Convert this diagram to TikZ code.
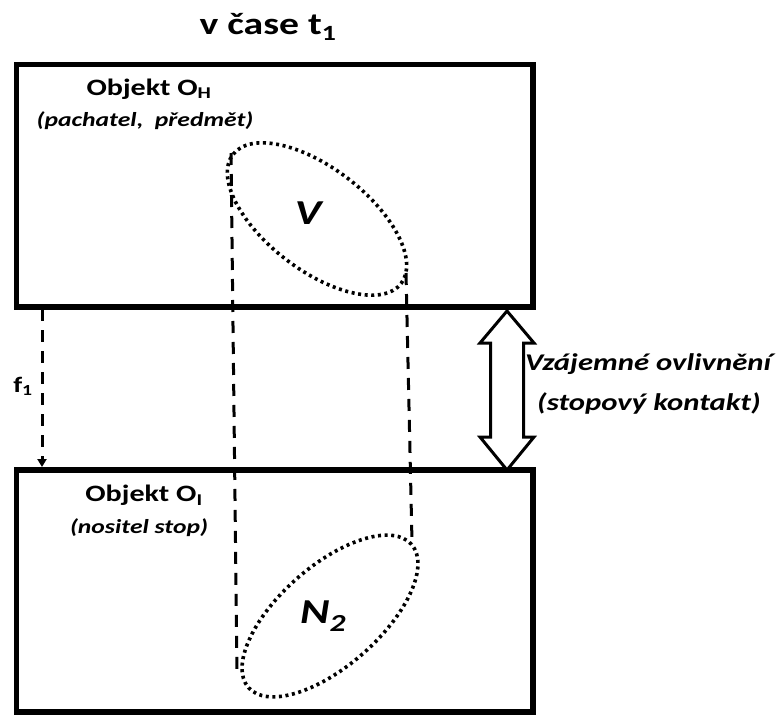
\documentclass[tikz,border=0pt]{standalone}
\usepackage{fontspec}
\setmainfont{Carlito}[FakeStretch=1.28]
\usetikzlibrary{arrows.meta,shapes.geometric}

\begin{document}
\begin{tikzpicture}[x=1pt,y=-1pt,
  objbox/.style={draw, line width=5.5pt, rectangle, inner sep=0pt, outer sep=0pt,
                 anchor=north west, minimum width=516.5pt},
  zone/.style={draw, ellipse, line width=3.6pt, inner sep=0pt, outer sep=0pt,
               dash pattern=on 3pt off 3.6pt, minimum width=212pt, minimum height=102pt},
  link/.style={line width=3pt, dash pattern=on 12pt off 9pt},
  contact/.style={draw, line width=3pt, fill=white, line join=miter},
  title/.style={font=\fontsize{31}{31}\selectfont\bfseries},
  objname/.style={font=\fontsize{23.5}{23.5}\selectfont\bfseries},
  objnote/.style={font=\fontsize{20}{20}\selectfont\bfseries\itshape},
  sidenote/.style={font=\fontsize{24}{24}\selectfont\bfseries\itshape, anchor=west, inner sep=0pt},
  setname/.style={font=\fontsize{35}{35}\selectfont\bfseries\itshape}
]
\useasboundingbox (0,0) rectangle (781,718);

% the two objects
\node[objbox, minimum height=242.5pt] (top) at (16.5,64.5) {};
\node[objbox, minimum height=242pt] (bot) at (16.5,470) {};

% captions
\node[title] (when) at (268,27) {v čase t\textsubscript{1}};
\node[objname] (oh) at (149,89) {Objekt O\textsubscript{H}};
\node[objnote] (ohn) at (145,121) {(pachatel,~ předmět)};
\node[objname] (oi) at (144,495) {Objekt O\textsubscript{I}};
\node[objnote] (oin) at (139,528) {(nositel stop)};

% trace regions
\node[zone, rotate=-37.5] (zv) at (317,219) {};
\node[zone, rotate=41.3, minimum width=217pt, minimum height=100pt] (zn) at (330,616) {};
\node[setname] (lv) at (308,213) {V};
\node[setname] (ln) at (323,616) {N\textsubscript{2}};

% projections between the regions
\coordinate (vl) at (231,153);
\coordinate (nl) at (237,672);
\coordinate (vr) at (406,273);
\coordinate (nr) at (412,542);
\draw[link] (vl) -- (nl);
\draw[link] (vr) -- (nr);

% f1
\coordinate (fa) at (42,309);
\coordinate (fb) at (42,467);
\draw[link, -{Triangle[width=9pt,length=8pt]}] (fa) -- (fb);
\node[font=\fontsize{22}{22}\selectfont\bfseries] (f1) at (23,386) {f\textsubscript{1}};

% mutual contact arrow
\coordinate (ct) at (507,311);
\coordinate (cb) at (507,470);
\draw[contact] (ct) -- (534,343) -- (523.5,343) -- (523.5,437) -- (534,437) -- (cb)
  -- (480,437) -- (490.5,437) -- (490.5,343) -- (480,343) -- cycle;
\node[sidenote] (mut) at (525,364) {Vzájemné ovlivnění};
\node[sidenote] (mutn) at (537,403) {(stopový kontakt)};
\end{tikzpicture}
\end{document}
